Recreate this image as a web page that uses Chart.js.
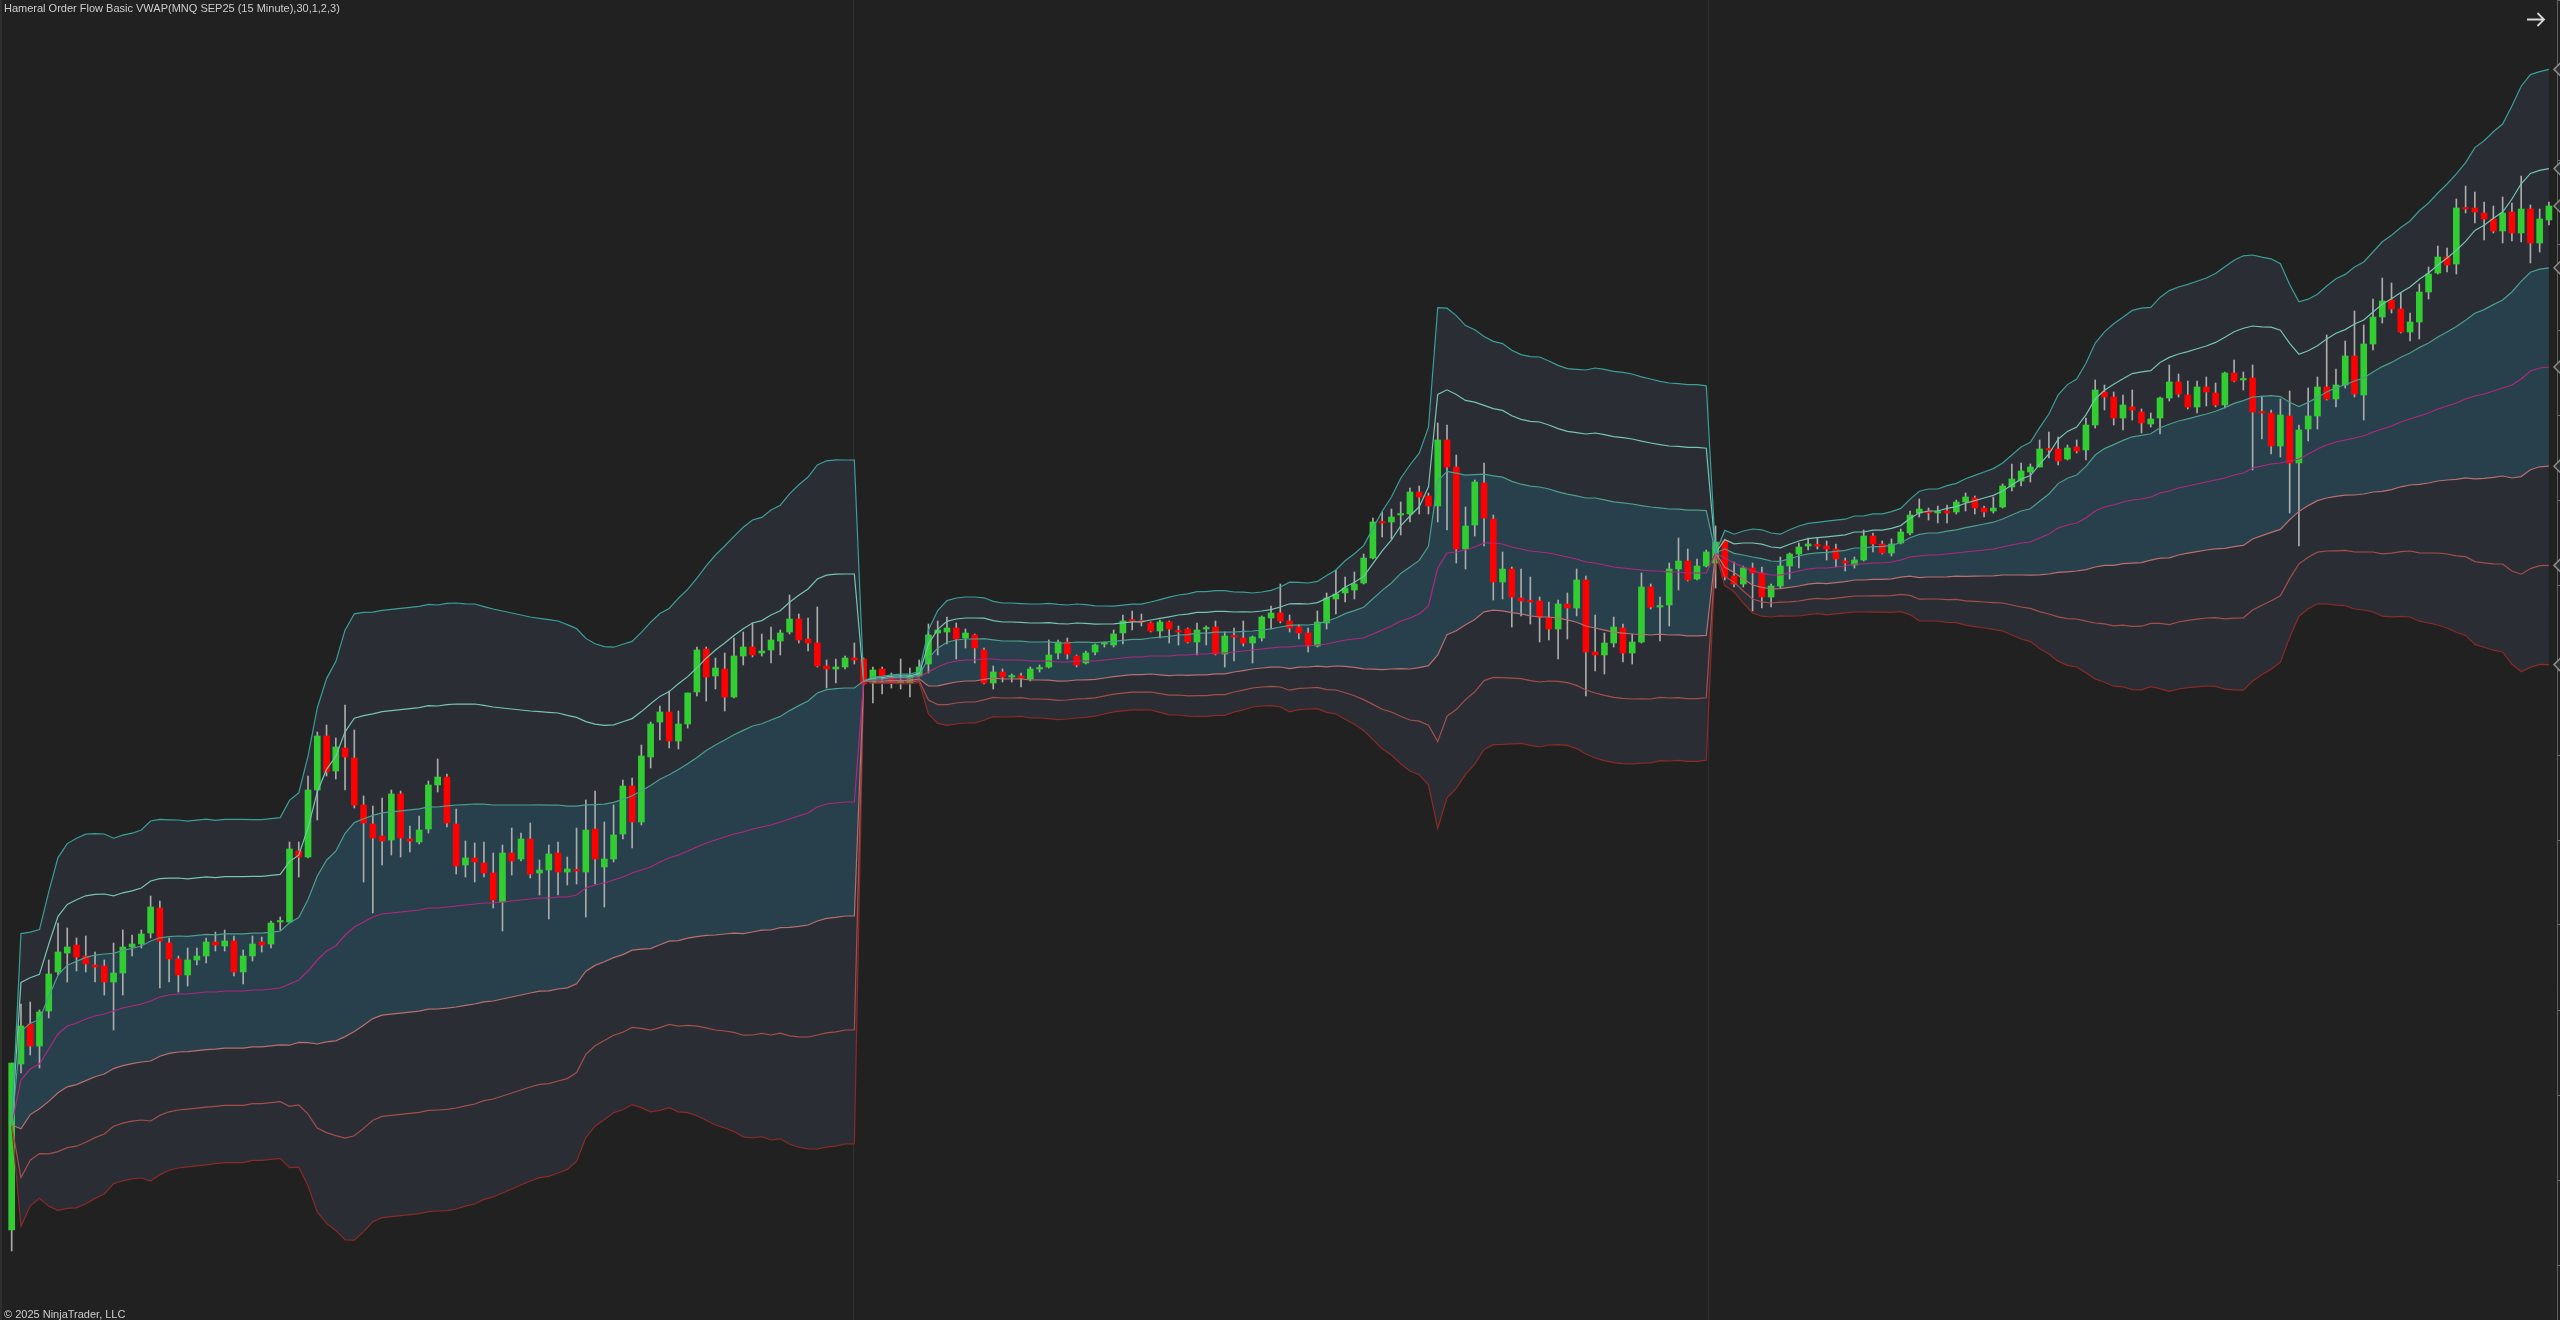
<!DOCTYPE html>
<html><head><meta charset="utf-8">
<script src="https://cdn.jsdelivr.net/npm/chart.js@4.4.1/dist/chart.umd.min.js"></script>
<style>
html,body{margin:0;padding:0;background:#212121;overflow:hidden}
#wrap{position:relative;width:2560px;height:1320px;background:#212121}
#c{position:absolute;left:0;top:0}
.txt{position:absolute;font-family:"Liberation Sans",Arial,sans-serif;font-size:11px;line-height:13px;color:#cdcdcd;white-space:nowrap}
#edge{position:absolute;left:0;top:0;width:2px;height:1320px;background:#2e2e2e}
</style></head><body>
<div id="wrap">
<canvas id="c" width="2560" height="1320"></canvas>
<div id="edge"></div>
<div class="txt" style="left:4px;top:2px">Hameral Order Flow Basic VWAP(MNQ SEP25 (15 Minute),30,1,2,3)</div>
<div class="txt" style="left:4px;top:1308px">© 2025 NinjaTrader, LLC</div>
<svg style="position:absolute;left:2524px;top:10px" width="26" height="20"><path d="M3 9.5 H20 M13.5 3 L20 9.5 L13.5 16" stroke="#d9d9d9" stroke-width="1.8" fill="none"/></svg>
</div>
<script>
// ---- price bars (15 minute), three sessions ----
const open = [
23022.5,23064,23074,23068.5,23077.25,23087,23091.75,23093.75,23091,23088.75,
23088.5,23084.5,23086.75,23093.25,23094,23096.75,23103,23094.25,23090.25,23086.25,
23090,23091,23094.5,23093.5,23094.75,23087,23091,23094.5,23094,23099.5,
23099.5,23117.25,23115.75,23132.5,23146,23137.25,23143,23140.5,23128.75,23124,
23121,23120,23131.5,23120.25,23119.5,23122.75,23133.75,23135.75,23124,23113.75,
23115.5,23114.25,23111.75,23104.5,23116.75,23115.25,23120.25,23111.75,23112.5,23116.75,
23112,23112.5,23112,23122.75,23113.25,23115.25,23121.5,23133.5,23124.5,23140.75,
23149.5,23152,23144.75,23149,23157,23167.75,23161,23162.75,23155.75,23166,
23168.25,23166.75,23167.5,23169.75,23172,23175.25,23170.25,23169.25,23163.5,23162.75,
23163.25,23165.5,
23165.25,23159.25,23162.75,23160.5,23159.25,23159.25,23161,23164,23171.75,23172,
23173,23170.5,23171.25,23167.5,23159.25,23162,23160.75,23161,23160.25,23162.75,
23163.25,23166.75,23169.5,23166,23164.25,23167,23169,23168.75,23171.75,23175,
23174.75,23174.25,23172.25,23174.5,23172.25,23172.75,23169.5,23172.75,23173.25,23166.5,
23171,23170.5,23169.25,23170.5,23175.5,23176.75,23174.75,23173.25,23171.75,23168.5,
23174.25,23180.25,23181.75,23182.5,23184.25,23190.5,23199.5,23199.5,23201.25,23201.5,
23207,23206,23203.5,23220,23213.25,23192.75,23198.75,23209.25,23200.25,23184.5,
23187.75,23180.5,23179.75,23179.75,23175.5,23172.75,23179,23178,23185,23167,
23166.25,23169.25,23173,23166.75,23169.5,23183.25,23178.25,23178.75,23187.75,23189.75,
23185.25,23188.5,
23189.25,23194.75,23186,23184,23188,23186.75,23180.75,23183.5,23188.5,23191.5,
23193.5,23193.75,23193.5,23192.75,23189.75,23188.75,23190,23196,23194,23191.75,
23194.25,23196.75,23201.75,23202.25,23201.75,23202.25,23202,23204.5,23205.5,23203,
23202.25,23203.25,23208.25,23209.75,23212,23213.25,23217.75,23217.75,23215.25,23218.25,
23217.5,23223.75,23232,23230.75,23225.5,23228.25,23227,23224,23225.5,23230.5,
23234.5,23231.25,23228.25,23233.25,23231.75,23228.75,23236.75,23235,23235.5,23227,
23226.75,23218.5,23226,23214.25,23222.75,23226,23233.25,23230.25,23233.75,23241,
23231.25,23244,23250.75,23255,23252.75,23247,23249.5,23257,23261.75,23265.75,
23264,23278,23278,23276.75,23275.25,23272.25,23277,23271.75,23277.75,23269.25,
23275];
const high = [
23064.25,23079,23079.5,23077.5,23090,23099.25,23098,23095.5,23096,23092,
23090,23094.25,23097.5,23096.25,23097.5,23106,23104.75,23095.5,23091,23093,
23093,23095.5,23097,23097.5,23096,23092.5,23096,23095.75,23099.75,23100.75,
23119.5,23119.5,23136,23147,23148.75,23145.5,23153.75,23147.5,23131,23128.5,
23130.5,23132.5,23132.25,23123.5,23126,23134.75,23140.25,23136.5,23127.75,23119.75,
23119.25,23119.5,23116.75,23118.75,23123,23121.75,23124.25,23115,23118.75,23119.5,
23115.75,23123,23130,23132.25,23124.5,23128.75,23135,23135.5,23143.75,23149.5,
23153.5,23157.25,23152.25,23156.75,23168.25,23168.25,23165.5,23166.75,23170.5,23172,
23174.25,23171.5,23173.25,23172.5,23181.25,23176.5,23175.5,23178.25,23165,23165.25,
23166,23169.25,
23165.5,23163.25,23163.25,23161.75,23165.25,23163,23165,23174,23174.75,23175.75,
23174.25,23172.75,23171.5,23168,23163.5,23162.75,23161.5,23161.75,23163.25,23163.75,
23170,23170,23170.5,23166.25,23167.25,23169,23169.5,23172.5,23176.25,23177.25,
23176.5,23174.5,23175,23174.75,23173.5,23173,23174.25,23173.5,23174.75,23172,
23173,23174.75,23171,23176,23178.5,23184,23176.25,23173.75,23173,23177.25,
23181.75,23187.5,23185.75,23187,23191.5,23200.5,23202,23202.75,23204.5,23208,
23208.5,23206.75,23224.25,23223.75,23216.25,23203.25,23210,23214.25,23201.25,23192,
23188.25,23187.75,23185.75,23180.75,23179.5,23180,23181.75,23187.75,23186,23176.25,
23171.75,23175.75,23174,23171.5,23186.75,23184,23180.75,23189.25,23195.5,23192.75,
23190.25,23192.5,
23198.5,23195,23189.5,23188.5,23189.25,23188.25,23184,23190.75,23191.75,23194.25,
23195.5,23195.5,23194.75,23194,23190.5,23190.75,23197.5,23196.75,23194.75,23195.25,
23197.75,23202.25,23205.25,23203,23203.5,23203.75,23205,23206.75,23206,23203.5,
23205.75,23209,23214,23214.25,23214,23220,23222,23220.75,23218.75,23220,
23225.5,23235,23233.75,23232,23231.25,23232.5,23227.75,23226.75,23230.75,23238.75,
23236.5,23234.75,23234.75,23235.75,23234.25,23237,23240,23237,23238.75,23231,
23227.5,23230.25,23232.25,23223.75,23233,23235.75,23246.25,23237.75,23244.75,23252.25,
23248.75,23255.25,23260.5,23259.25,23256.75,23251.75,23259,23263.25,23268.5,23268,
23280.25,23283.5,23282,23279.5,23278.5,23280.75,23279.25,23286,23278.75,23277.75,
23279.5];
const low = [
23017.25,23061.75,23066.25,23063,23075.5,23086.25,23084.5,23087.25,23087,23084.5,
23081.25,23072.5,23081.25,23091,23093,23095.5,23083,23084.5,23082,23083.5,
23088.75,23089.25,23092.25,23092.25,23086,23084,23089.75,23092,23093,23097.5,
23099.25,23110.75,23115.5,23125,23136,23135.25,23132.5,23128,23109.5,23101.75,
23113.75,23116.25,23115.75,23117,23119,23121.75,23132,23123.25,23111.5,23110.75,
23109.5,23110.75,23103,23097.25,23111.25,23114.75,23110.5,23106.25,23100.25,23106.25,
23108.75,23109,23100.75,23109,23103.25,23114.5,23120.25,23118,23123.75,23138,
23145,23143,23142.75,23148,23156,23154.75,23157.75,23152.25,23155.5,23163.75,
23165.75,23166,23164.25,23166.25,23171.5,23169.25,23167.25,23163.25,23158,23159.25,
23162.75,23164,
23158.75,23154.25,23156.5,23158,23157.75,23155.75,23160.75,23161.75,23166.25,23169,
23165.25,23168,23164.25,23159,23157.75,23159.5,23159.5,23158.25,23159.75,23162,
23163,23165.25,23165.25,23163.25,23164,23166.25,23168.25,23168.25,23169,23172.5,
23173.5,23172,23170.5,23169.25,23168.75,23169.25,23166.25,23168.75,23166.25,23163.25,
23164.75,23168.5,23164.25,23169.75,23172.75,23174.25,23172,23170.25,23167,23168.25,
23172.75,23176.5,23179.5,23180.25,23184,23190.25,23195.75,23195.25,23196.25,23199.5,
23201.5,23201.5,23199.5,23197.5,23189.25,23187.75,23196,23193.5,23180,23180.25,
23173.25,23176,23174,23169.5,23170,23165.25,23170.25,23176,23156,23162.25,
23161.5,23168.25,23164.5,23164,23169.25,23177.75,23169.75,23173.5,23182.5,23184.75,
23185,23188.25,
23183,23185,23183.25,23183.25,23177.25,23178,23178.25,23183,23185.25,23188,
23192.5,23192.75,23190,23188.25,23187.25,23188,23189.75,23192,23191.5,23191,
23194,23196.25,23200.75,23200,23199.25,23199.25,23201.5,23202.25,23201.5,23200.75,
23201.75,23203,23207.25,23208.5,23209.5,23213.25,23215.5,23213.75,23215,23216.75,
23215,23223,23227.5,23223.75,23222.5,23225,23221.75,23223.25,23221.5,23229.75,
23230.75,23227.75,23226.75,23228.5,23228.25,23228,23234.5,23232.5,23212.5,23220.25,
23216.5,23215.75,23201.75,23193.5,23219.75,23222.75,23230,23228.25,23233,23230.75,
23225,23242.5,23249.25,23251.75,23246.75,23244.75,23245.25,23255.25,23261.5,23262,
23261.5,23276.75,23274.25,23270,23271.75,23269.25,23269.75,23269.5,23264.25,23267,
23273.75];
const close = [
23064.25,23073.5,23068.5,23077,23086.5,23092,23093.25,23090.75,23089,23088.25,
23084.5,23086.75,23093.25,23094,23096.5,23103.25,23094.75,23090.25,23086.25,23090,
23091,23094.5,23093.75,23094.75,23087,23091,23094,23093.75,23099.25,23099.75,
23117.75,23115.75,23132.5,23146,23137,23143.25,23140.75,23128.75,23124.25,23120.5,
23119.75,23131.5,23120.5,23119.75,23122.5,23133.75,23135.75,23124.25,23113.5,23115.5,
23114.5,23111.75,23105,23116.75,23114.75,23120.25,23111.5,23112.5,23116.5,23112,
23112.75,23112.25,23122.5,23115.25,23115.25,23121.25,23133.5,23124.5,23141,23149,
23152,23144.75,23149,23156.75,23167.5,23160.75,23163,23155.75,23166,23168.25,
23166.25,23167.25,23170,23171.75,23175.25,23170,23169.25,23163.5,23162.75,23163.25,
23165.5,23165,
23159,23162.5,23160.75,23159.5,23159.5,23161,23163.25,23171.25,23172.5,23173,
23170.25,23171.75,23168,23159.25,23162,23160.75,23161,23160.5,23162.75,23163,
23166.25,23169.5,23166.5,23163.75,23166.75,23168.75,23169.25,23171.5,23174.75,23174.75,
23174.5,23172.25,23174.5,23172.75,23172,23169.5,23172.5,23173,23166.5,23171,
23170.75,23169.25,23170.75,23175.75,23176.75,23174.75,23173,23171.75,23168.75,23174.5,
23180.5,23181.5,23183,23184,23190.5,23199.5,23199.25,23200.75,23201.5,23207,
23205.75,23203.5,23220,23213.25,23192.75,23198.5,23209.5,23200.5,23184.5,23187.75,
23180.75,23179.75,23179.5,23175.75,23172.75,23179,23178,23185,23167,23166.25,
23169.25,23173.25,23166.75,23169.5,23183.25,23178.25,23178.5,23187.75,23189.75,23185,
23188.5,23192,
23194.5,23185.75,23184,23188,23186.75,23180.75,23183.5,23188.5,23191.5,23193.25,
23194,23193.5,23192.75,23190.25,23189.25,23190,23196,23194,23191.75,23194,
23197,23201.25,23202.75,23201.75,23202,23201.75,23204.5,23205.75,23203,23202,
23203,23208.5,23210.25,23212.25,23213.25,23217.75,23217.5,23214.75,23218,23217.25,
23223.75,23232.5,23230.75,23225.5,23228.75,23227.5,23224.25,23225.25,23230.5,23234.5,
23231.5,23228.25,23233.25,23232,23228.75,23236.75,23234.75,23235.25,23227,23226.75,
23218.5,23226.25,23214.25,23222.5,23226,23233.25,23230.25,23233.75,23241,23231.5,
23244,23250.75,23254.75,23252.75,23247,23249.5,23257,23261.5,23265.75,23263.75,
23278,23277.75,23277,23275.25,23272.25,23276.75,23271.75,23277.75,23269.25,23275.25,
23278.5];
// ---- session VWAP and its standard deviation (bands at 1, 2, 3 SD) ----
const vwap = [
23048.75,23060,23062.75,23064,23067.75,23071.5,23073.5,23074.25,23075.25,23076,
23076.5,23077.25,23078,23078.5,23079,23079.75,23080.75,23081.25,23081.5,23081.5,
23081.75,23082,23082,23082.25,23082.25,23082.25,23082.5,23082.5,23082.75,23083,
23084,23085,23087.25,23090,23092.25,23093.5,23096.25,23098.25,23099.5,23100.75,
23101.5,23101.75,23102,23102.25,23102.5,23103,23103,23103.25,23103.5,23103.75,
23104,23104.25,23104.25,23104.5,23104.75,23105,23105.25,23105.5,23105.5,23105.75,
23105.75,23106.25,23108,23108.75,23109.25,23110,23110.75,23111.75,23112.5,23113.25,
23114.5,23115.5,23116.25,23117.25,23118.25,23119.25,23120,23120.75,23121.5,23122,
23122.75,23123.25,23123.75,23124.5,23125.25,23126,23126.75,23128.25,23129,23129.25,
23129.5,23129.5,
23159.75,23160,23160,23160.25,23160.25,23160.25,23160.75,23162,23163.25,23164.25,
23164.75,23165,23165,23165.25,23165.25,23165,23165,23165,23164.75,23164.75,
23164.75,23164.5,23164.5,23164.75,23164.75,23164.75,23165,23165.25,23165.5,23165.75,
23165.75,23166,23166,23166,23166.25,23166.25,23166.5,23166.5,23166.75,23166.75,
23167,23167.25,23167.5,23167.75,23168,23168.25,23168.25,23168.5,23168.5,23168.75,
23169,23169.5,23170,23170.25,23170.5,23171.5,23172.5,23173.5,23174.75,23175.5,
23176.5,23178.5,23188,23191.75,23192,23192.5,23193.25,23194.25,23194.25,23194,
23193.25,23192.75,23192.25,23192,23191.75,23191.25,23190.75,23190.25,23189.5,23189.25,
23188.75,23188.25,23188,23187.75,23187.5,23187.25,23187.25,23187,23187,23186.75,
23186.75,23186.75,
23191.75,23190.5,23189.25,23188.25,23187.25,23186.75,23186.25,23186.25,23186.75,23187.25,
23187.75,23188,23188,23188.25,23188.5,23189,23189,23189.25,23189.25,23189.5,
23190,23190.75,23191,23191.25,23191.25,23191.5,23191.75,23192,23192.25,23192.5,
23192.75,23193.25,23193.75,23194.25,23194.5,23195.5,23196.5,23198,23198.75,23199.25,
23200.5,23202.25,23203.25,23203.75,23204.5,23205,23205.25,23205.75,23206.75,23207.25,
23208,23208.5,23209,23209.5,23210,23210.5,23211.25,23211.75,23213,23213.5,
23214,23214.25,23214.75,23215.25,23216.5,23217.75,23218.75,23219.5,23220,23220.5,
23221,23222,23222.75,23223.5,23224.5,23225.25,23226,23226.75,23227.75,23228.5,
23229.25,23230.25,23231,23231.5,23232.25,23233,23233.75,23235.25,23237.25,23238,
23238.25];
const sd = [
0,12.2,11.4,11.2,13.1,14.7,15.2,15.4,15.4,15.2,
15,14.4,14.4,14.4,14.5,15,14.8,14.6,14.5,14.4,
14.4,14.4,14.3,14.3,14.3,14.3,14.2,14.2,14.2,14.2,
15.3,15.6,17.9,21,22.7,23.7,25.4,26.1,25.8,25.4,
25.3,25.3,25.3,25.3,25.3,25.3,25.25,25.3,25.25,25.1,
25,24.7,24.5,24.25,24,23.75,23.5,23.3,23.2,23,
22.7,22.2,20.8,20.1,19.7,19.4,19.4,19.3,19.8,20.4,
20.7,20.8,21.4,21.8,22.4,23.1,23.75,24.25,24.8,25.4,
25.75,25.8,26.25,26.4,27.1,27.6,28,28.5,28.6,28.6,
28.5,28.5,
0,0.25,0.3,0.35,0.4,0.4,0.45,3.5,4.7,5.2,
5.25,5.25,5.25,5.1,4.8,4.75,4.75,4.7,4.75,4.75,
4.8,4.8,4.75,4.75,4.7,4.6,4.5,4.4,4.4,4.4,
4.4,4.5,4.7,4.9,5,5.1,5.2,5.2,5.2,5.2,
5,4.9,4.75,4.75,4.8,5,5.4,5.3,5.25,5.3,
5.7,6,6.6,7.1,7.7,8.8,9.9,10.75,11.9,12.75,
13.4,14.9,21.7,20.4,19.7,18.7,18.1,17.2,16.8,16.7,
16.4,16.2,16.2,16.25,16,15.8,15.7,15.8,16,16.25,
16.3,16.3,16.3,16.25,16.1,16,15.8,15.75,15.7,15.7,
15.7,15.6,
0,2.3,2.4,3,3.5,3.6,3.5,3.4,3.6,3.75,
3.8,3.8,3.9,3.9,3.9,4,4,4.1,4.1,4.2,
4.3,4.8,5.4,5.5,5.5,5.7,5.8,6.1,6.3,6.5,
6.7,7,7.5,8,8.3,9.2,10,11.1,11.7,12,
12.9,14,14.6,15.1,15.4,15.8,15.9,15.8,16.3,16.7,
16.75,16.8,16.9,17,17.2,17.6,17.9,18.1,17.75,17.4,
17.1,16.6,14.7,13.1,12.9,12.9,13.25,13.6,13.8,14.25,
14.5,15,15.6,15.9,16.2,16.5,17.1,17.5,18,18.5,
19.1,19.7,20.7,21.1,21.6,22,23.25,24.4,24.7,24.7,
24.8];
const sessionBreaks = [90.9, 183.2];
const bandMultipliers = [3, 2, 1, 0, -1, -2, -3];
const bandLabels = ['Upper 3','Upper 2','Upper 1','VWAP','Lower 1','Lower 2','Lower 3'];

// ---- styling ----
const bandColors = ['#3a9f97','#76c4b1','#4d9e8f','#b0277f','#b86f70','#a34e4d','#8b2a29'];
const OUTER = '#2a2d33', INNER = '#27404c';
const bandFill = [{target:2, color:OUTER}, null, {target:4, color:INNER}, null, {target:6, color:OUTER}, null, null];
const UP = '#32cd32', DOWN = '#ff0000', WICK = '#ababab';

const N = close.length;
const idx = close.map((_, i) => i);
const bands = bandMultipliers.map(k => vwap.map((v, i) => v + k * sd[i]));

const datasets = bands.map((b, j) => ({
  type: 'line', label: bandLabels[j],
  data: b.map((y, i) => ({x: idx[i], y})),
  borderColor: bandColors[j], borderWidth: 1.2,
  pointRadius: 0, tension: 0, order: 0,
  fill: bandFill[j] ? bandFill[j].target : false,
  backgroundColor: bandFill[j] ? bandFill[j].color : 'transparent'
}));
datasets.push({
  type: 'bar', label: 'Wicks',
  data: idx.map(i => ({x: i, y: [low[i], high[i]]})),
  backgroundColor: WICK, barThickness: 1, grouped: false, borderWidth: 0, order: 2
});
datasets.push({
  type: 'bar', label: 'Bodies',
  data: idx.map(i => ({x: i, y: [open[i], close[i]]})),
  backgroundColor: idx.map(i => close[i] >= open[i] ? UP : DOWN),
  barThickness: 6, minBarLength: 1.5, grouped: false, borderWidth: 0, order: 1
});
const markerVals = [bands[0][N-1], bands[1][N-1], close[N-1], bands[2][N-1], bands[3][N-1], bands[4][N-1], bands[5][N-1], bands[6][N-1]];
const markerX = (N - 1) + 1.3;
datasets.push({
  type: 'bubble', label: 'Price markers',
  data: markerVals.map(y => ({x: markerX, y, r: 7})),
  pointStyle: 'rectRot', backgroundColor: '#2e2e2e',
  borderColor: '#8a8a8a', borderWidth: 1.5, clip: false, order: -1
});

const xMin = -1.2635, xMax = -1.2635 + 2557 / 9.26;

new Chart(document.getElementById('c'), {
  type: 'bar',
  data: { datasets },
  options: {
    responsive: false, devicePixelRatio: 1, animation: false,
    layout: { padding: 0, autoPadding: false },
    plugins: { legend: {display: false}, tooltip: {enabled: false}, title: {display: false},
               filler: { drawTime: 'beforeDatasetsDraw', propagate: false } },
    scales: {
      x: { type: 'linear', min: xMin, max: xMax, offset: false,
           afterBuildTicks: s => { s.ticks = sessionBreaks.map(v => ({value: v})); },
           ticks: {display: false},
           grid: {display: true, color: '#2f2f2f', lineWidth: 1, drawTicks: false, offset: false},
           border: {display: false} },
      y: { type: 'linear', position: 'right', min: 23000, max: 23330,
           ticks: {display: false, stepSize: 21.25},
           grid: {drawOnChartArea: false, drawTicks: true, tickLength: 3, color: '#707070'},
           border: {display: true, color: '#606060', width: 1} }
    }
  }
});
</script>
</body></html>
